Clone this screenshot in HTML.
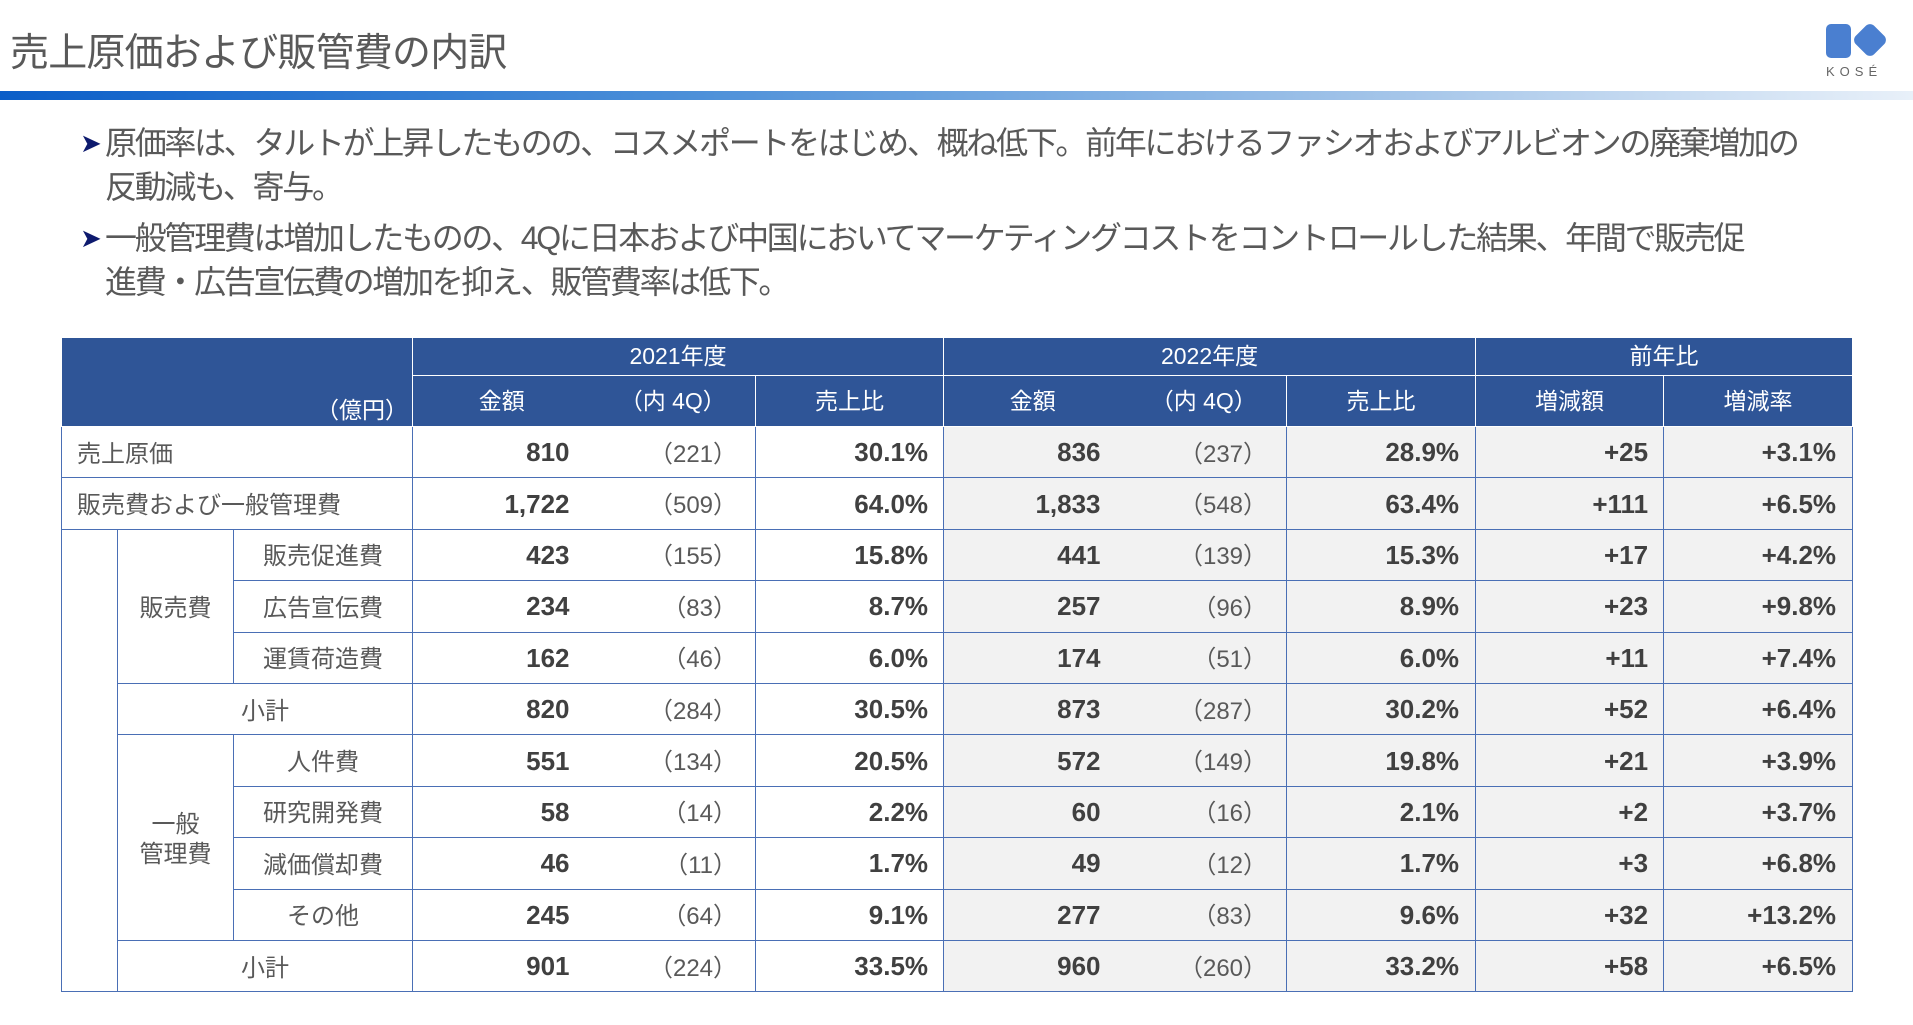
<!DOCTYPE html>
<html><head><meta charset="utf-8"><style>
body{margin:0;width:1913px;height:1025px;background:#fff;position:relative;overflow:hidden;font-family:"Liberation Sans","Noto Sans CJK JP",sans-serif;color:#595959}
.title{position:absolute;left:10px;top:28px;font-size:39px;color:#595959;letter-spacing:-0.8px;line-height:52px}
.bar{position:absolute;left:0;top:91px;width:1913px;height:9px;background:linear-gradient(90deg,#0b5ec8 0%,#4a8ed8 35%,#a9c8ea 75%,#e8f0f9 100%)}
.b{position:absolute;left:80px;font-size:32px;color:#595959;letter-spacing:-2.3px;line-height:44px}
.b .ar{position:absolute;left:0;top:0;color:#0d1a6e;font-size:26px}
.b .t{margin-left:25px;display:block}
table{position:absolute;left:61px;top:337px;border-collapse:collapse;table-layout:fixed;width:1791px;font-size:24px}
td{border:1px solid #4a6fb5;padding:0;overflow:hidden;white-space:nowrap;line-height:1;vertical-align:middle}
.h td{background:#2f5597;color:#fff;text-align:center;border-color:#fff;font-size:23px}
.n{text-align:right;font-weight:bold;color:#404040;font-size:26px}
.p{text-align:right;color:#595959;padding-top:5px}
.g{background:#f2f2f2}
.nb{border-right:none}.nl{border-left:none}
.lab{padding-left:15px;padding-top:5px}
.c{text-align:center;padding-top:5px}
</style></head><body>
<div class="title">売上原価および販管費の内訳</div>
<div class="bar"></div>
<div style="position:absolute;left:1826px;top:24px;width:66px;height:60px">
<div style="position:absolute;left:0;top:0;width:25px;height:34px;background:#4a7fd0;border-radius:5px"></div>
<div style="position:absolute;left:31px;top:3px;width:26px;height:26px;background:#4a7fd0;border-radius:6px;transform:rotate(45deg)"></div>
<div style="position:absolute;left:0;top:40px;font-size:13px;letter-spacing:5px;color:#666">KOSÉ</div></div>
<div class="b" style="top:121px"><span class="ar">➤</span><span class="t">原価率は、タルトが上昇したものの、コスメポートをはじめ、概ね低下。前年におけるファシオおよびアルビオンの廃棄増加の<br>反動減も、寄与。</span></div>
<div class="b" style="top:216px"><span class="ar">➤</span><span class="t">一般管理費は増加したものの、4Qに日本および中国においてマーケティングコストをコントロールした結果、年間で販売促<br>進費・広告宣伝費の増加を抑え、販管費率は低下。</span></div>
<table>
<colgroup><col style="width:56px"><col style="width:116px"><col style="width:179px"><col style="width:178px"><col style="width:165px"><col style="width:188px"><col style="width:178px"><col style="width:165px"><col style="width:189px"><col style="width:188px"><col style="width:189px"></colgroup>
<tr class="h" style="height:38px"><td colspan="3" rowspan="2" style="text-align:right;vertical-align:bottom;padding:0 4px 4px 0">（億円）</td><td colspan="3" style="height:37px">2021年度</td><td colspan="3">2022年度</td><td colspan="2">前年比</td></tr>
<tr class="h" style="height:51px"><td class="nb" style="height:50px">金額</td><td class="nl">（内 4Q）</td><td>売上比</td><td class="nb">金額</td><td class="nl">（内 4Q）</td><td>売上比</td><td>増減額</td><td>増減率</td></tr>
<tbody id="tb"></tbody>
</table>
<script>
const labels=["売上原価","販売費および一般管理費","販売促進費","広告宣伝費","運賃荷造費","小計","人件費","研究開発費","減価償却費","その他","小計"];
const amt2021=["810","1,722","423","234","162","820","551","58","46","245","901"];
const q2021=["(221)","(509)","(155)","(83)","(46)","(284)","(134)","(14)","(11)","(64)","(224)"];
const r2021=["30.1%","64.0%","15.8%","8.7%","6.0%","30.5%","20.5%","2.2%","1.7%","9.1%","33.5%"];
const amt2022=["836","1,833","441","257","174","873","572","60","49","277","960"];
const q2022=["(237)","(548)","(139)","(96)","(51)","(287)","(149)","(16)","(12)","(83)","(260)"];
const r2022=["28.9%","63.4%","15.3%","8.9%","6.0%","30.2%","19.8%","2.1%","1.7%","9.6%","33.2%"];
const diff=["+25","+111","+17","+23","+11","+52","+21","+2","+3","+32","+58"];
const rate=["+3.1%","+6.5%","+4.2%","+9.8%","+7.4%","+6.4%","+3.9%","+3.7%","+6.8%","+13.2%","+6.5%"];
const tb=document.getElementById('tb');
function cell(tr,txt,cls,pr){const td=document.createElement('td');td.textContent=txt;td.className=cls;if(pr!==null)td.style.paddingRight=pr+'px';tr.appendChild(td);return td;}
labels.forEach((l,i)=>{
 const tr=document.createElement('tr');
 
 
 tr.style.height='51.4px';
 if(i<2){const td=cell(tr,l,'lab',null);td.colSpan=3;}
 else{
  if(i===2){const td=cell(tr,'','',null);td.rowSpan=9;}
  if(i===2){const td=cell(tr,'販売費','c',null);td.rowSpan=3;}
  if(i===6){const td=cell(tr,'','c',null);td.rowSpan=4;td.innerHTML='一般<br>管理費';td.style.lineHeight='30px';}
  if(i===5||i===10){const td=cell(tr,l,'c',null);td.colSpan=2;}
  else cell(tr,l,'c',null);
 }
 cell(tr,amt2021[i],'n nb',21);
 cell(tr,q2021[i].replace('(','（').replace(')','）'),'p nl',18);
 cell(tr,r2021[i],'n',15);
 cell(tr,amt2022[i],'n nb g',21);
 cell(tr,q2022[i].replace('(','（').replace(')','）'),'p nl g',19);
 cell(tr,r2022[i],'n g',16);
 cell(tr,diff[i],'n g',15);
 cell(tr,rate[i],'n g',16);
 tb.appendChild(tr);
});
</script>
</body></html>
